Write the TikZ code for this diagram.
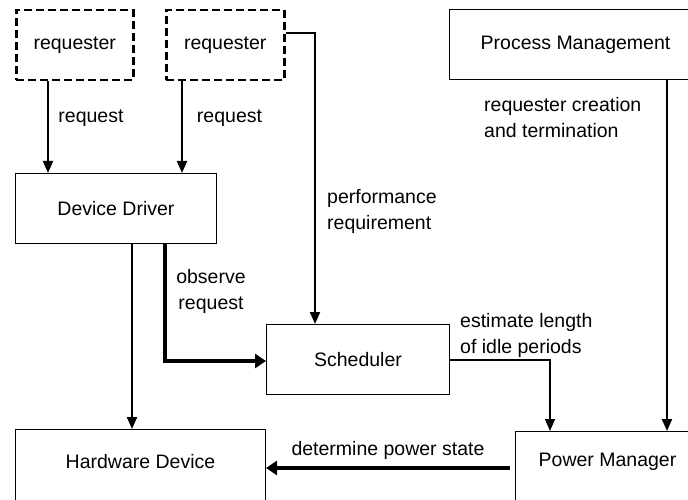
\documentclass[tikz,border=0pt]{standalone}
\usepackage{fontspec}
\setmainfont{Liberation Sans}
\usetikzlibrary{arrows.meta}
\begin{document}
\begin{tikzpicture}[x=1pt,y=-1pt,
  box/.style={draw, line width=1pt, rectangle, inner sep=0pt, anchor=north west, font=\fontsize{19.5pt}{26pt}\selectfont},
  reqbox/.style={box, line width=2.5pt, dash pattern=on 8pt off 4pt},
  lbl/.style={font=\fontsize{19.5pt}{26pt}\selectfont, inner sep=0pt},
  conn/.style={line width=2pt, -{Triangle[length=12pt,width=10pt]}},
  thinconn/.style={line width=1.2pt, -{Triangle[length=12pt,width=10pt]}},
  thickconn/.style={line width=3.2pt, -{Triangle[length=11pt,width=14pt]}}]
\useasboundingbox (0,0) rectangle (688,500);
\clip (0,0) rectangle (688,500);
% boxes
\node[reqbox, minimum width=117pt, minimum height=70pt] (r1) at (15,9) {requester};
\node[reqbox, minimum width=118pt, minimum height=70pt] (r2) at (165,9) {requester};
\node[box, minimum width=252pt, minimum height=70pt] (pm) at (449,9) {Process Management};
\node[box, minimum width=201pt, minimum height=70pt] (dd) at (15,173) {Device Driver};
\node[box, minimum width=183pt, minimum height=70pt] (sch) at (266,324) {Scheduler};
\node[box, minimum width=250pt, minimum height=90pt] (hd) at (15,429) {};
\path (hd.north) ++(0,33) node[lbl] (hdt) {Hardware Device};
\node[box, minimum width=184pt, minimum height=90pt] (pw) at (515,431) {};
\path (pw.north) ++(0,31) node[lbl] (pwt) {Power Manager};
% connectors
\draw[conn] ([xshift=33pt]r1.south west) -- ([xshift=33pt]dd.north west);
\draw[conn] ([xshift=17pt]r2.south west) -- ([xshift=167pt]dd.north west);
\draw[conn] ([yshift=-24pt]r2.north east) -| ([xshift=49pt]sch.north west);
\draw[conn] ([xshift=117pt]dd.south west) -- ([xshift=117pt]hd.north west);
\draw[thickconn] ([xshift=150pt]dd.south west) |- ([yshift=-37pt]sch.north west);
\draw[thinconn] ([yshift=-36pt]sch.north east) -| ([xshift=35pt]pw.north west);
\draw[conn] ([xshift=218pt]pm.south west) -- ([xshift=152pt]pw.north west);
\coordinate (dps) at ([xshift=-5pt,yshift=-37pt]pw.north west);
\draw[thickconn] (dps) -- (dps -| hd.east);
% labels
\node[lbl] (l1) at (91,118) {request};
\node[lbl] (l2) at (229.5,118) {request};
\node[lbl, anchor=west, align=left] (l3) at (484,118) {requester creation\\and termination};
\node[lbl, anchor=west, align=left] (l4) at (327,211) {performance\\requirement};
\node[lbl, align=center] (l5) at (211,291) {observe\\request};
\node[lbl, anchor=west, align=left] (l6) at (460,335) {estimate length\\of idle periods};
\node[lbl] (l7) at (388,450) {determine power state};
\end{tikzpicture}
\end{document}
